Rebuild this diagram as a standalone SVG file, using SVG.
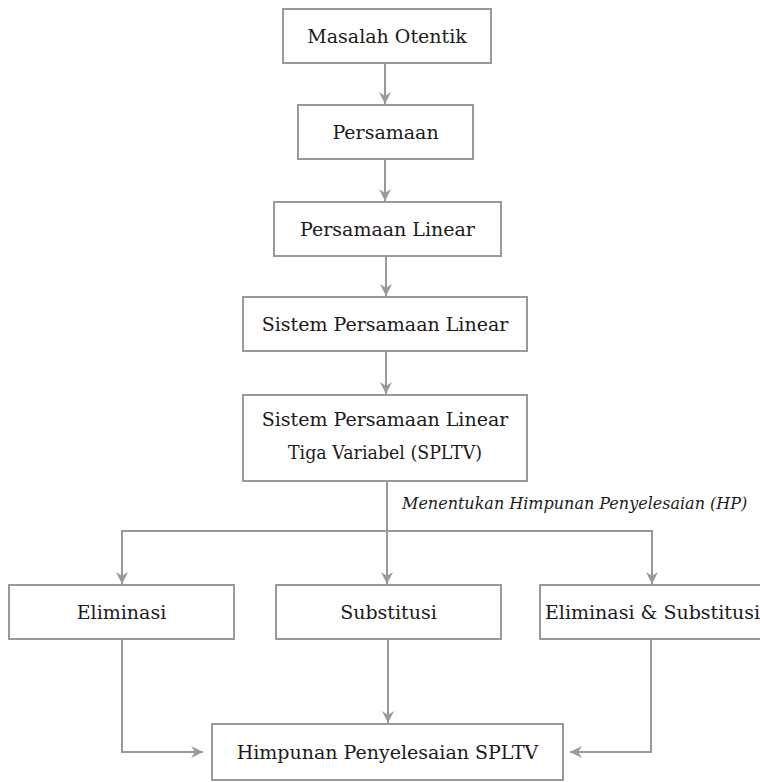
<svg xmlns="http://www.w3.org/2000/svg" width="760" height="782" viewBox="0 0 760 782">
<style>
.box{fill:#fff;stroke:#999;stroke-width:2}
.t{font-family:"DejaVu Serif","Liberation Serif",serif;font-size:19px;fill:#1a1a1a;text-anchor:middle}
.lbl{font-family:"DejaVu Serif","Liberation Serif",serif;font-size:16px;font-style:italic;fill:#1a1a1a}
.c{fill:none;stroke:#999;stroke-width:2}
</style>
<defs>
<marker id="ah" markerUnits="userSpaceOnUse" markerWidth="14" markerHeight="14" refX="12" refY="6" orient="auto">
<path d="M0,0 L12,6 L0,12 L4,6 z" fill="#999"/>
</marker>
</defs>
<rect width="760" height="782" fill="#fff"/>
<g id="connectors">
<line class="c" x1="385" y1="63" x2="385" y2="104" marker-end="url(#ah)"/>
<line class="c" x1="385" y1="159" x2="385" y2="201" marker-end="url(#ah)"/>
<line class="c" x1="386" y1="256" x2="386" y2="296" marker-end="url(#ah)"/>
<line class="c" x1="386" y1="351" x2="386" y2="394" marker-end="url(#ah)"/>
<line class="c" x1="387" y1="481" x2="387" y2="584" marker-end="url(#ah)"/>
<path class="c" d="M122,584 V531 H652 V584" />
<line class="c" x1="122" y1="570" x2="122" y2="584" marker-end="url(#ah)"/>
<line class="c" x1="652" y1="570" x2="652" y2="584" marker-end="url(#ah)"/>
<line class="c" x1="388" y1="639" x2="388" y2="723" marker-end="url(#ah)"/>
<path class="c" d="M122,639 V752 H203" marker-end="url(#ah)"/>
<path class="c" d="M651,639 V752 H570" marker-end="url(#ah)"/>
<text class="lbl" x="402" y="509">Menentukan Himpunan Penyelesaian (HP)</text>
</g>
<g id="n1"><rect class="box" x="283" y="9" width="208" height="54"/><text class="t" x="387" y="43">Masalah Otentik</text></g>
<g id="n2"><rect class="box" x="298" y="105" width="175" height="54"/><text class="t" x="385.5" y="139">Persamaan</text></g>
<g id="n3"><rect class="box" x="274" y="202" width="227" height="54"/><text class="t" x="387.5" y="236">Persamaan Linear</text></g>
<g id="n4"><rect class="box" x="243" y="297" width="284" height="54"/><text class="t" x="385" y="331">Sistem Persamaan Linear</text></g>
<g id="n5"><rect class="box" x="243" y="395" width="284" height="86"/><text class="t" x="385" y="426">Sistem Persamaan Linear</text><text class="t" x="385" y="459" textLength="194" lengthAdjust="spacingAndGlyphs">Tiga Variabel (SPLTV)</text></g>
<g id="n6"><rect class="box" x="9" y="585" width="225" height="54"/><text class="t" x="121.5" y="619">Eliminasi</text></g>
<g id="n7"><rect class="box" x="276" y="585" width="225" height="54"/><text class="t" x="388.5" y="619">Substitusi</text></g>
<g id="n8"><rect class="box" x="540" y="585" width="225" height="54"/><text class="t" x="652.5" y="619">Eliminasi &amp; Substitusi</text></g>
<g id="n9"><rect class="box" x="212" y="724" width="351" height="56"/><text class="t" x="387.5" y="759">Himpunan Penyelesaian SPLTV</text></g>
</svg>
